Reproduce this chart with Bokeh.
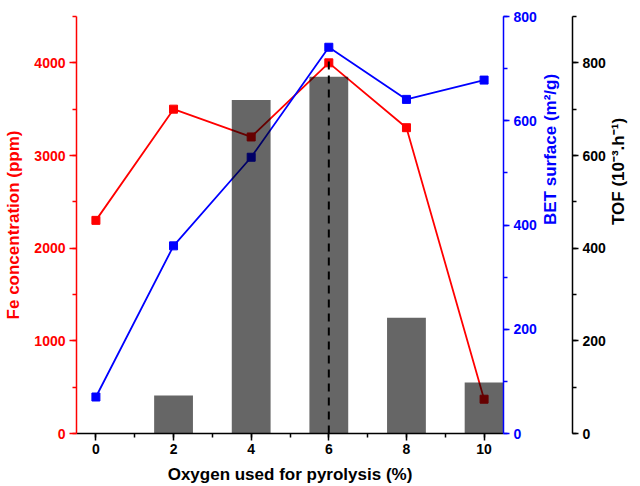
import math
from bokeh.plotting import figure
from bokeh.models import Range1d, LinearAxis, SingleIntervalTicker, ColumnDataSource
from bokeh.embed import file_html
from bokeh.resources import INLINE

oxygen = [0, 2, 4, 6, 8, 10]
fe_ppm = [2300, 3500, 3200, 4000, 3300, 370]
bet_surface = [70, 360, 530, 741, 641, 678]
tof = [0, 82, 720, 770, 250, 110]
peak_x = 6

FONT = "Liberation Sans"
RED = "#ff0000"
BLUE = "#0000ff"

X_MIN, X_MAX = -0.5, 10.5
FE_MAX, BET_MAX, TOF_MAX = 4500, 800, 900

p = figure(width=640, height=486, output_backend="svg", toolbar_location=None,
           x_range=Range1d(X_MIN, X_MAX), y_range=Range1d(0, FE_MAX),
           min_border_left=76, min_border_right=130, min_border_top=16, min_border_bottom=53)
p.extra_y_ranges = {"bet": Range1d(0, BET_MAX), "tof": Range1d(0, TOF_MAX)}
p.outline_line_color = None
p.xgrid.visible = False
p.ygrid.visible = False

def style_axis(ax, color, label, label_standoff=6, tick_out=7, tick_standoff=4):
    ax.axis_line_color = color
    ax.axis_line_width = 1.5
    ax.major_tick_line_color = color
    ax.minor_tick_line_color = color
    ax.major_tick_line_width = 1.5
    ax.minor_tick_line_width = 1.5
    ax.major_tick_in = 0
    ax.major_tick_out = tick_out
    ax.minor_tick_in = 0
    ax.minor_tick_out = 4
    ax.major_label_text_color = color
    ax.major_label_text_font = FONT
    ax.major_label_text_font_style = "bold"
    ax.major_label_text_font_size = "14px"
    ax.major_label_standoff = tick_standoff
    ax.axis_label = label
    ax.axis_label_text_color = color
    ax.axis_label_text_font = FONT
    ax.axis_label_text_font_style = "bold"
    ax.axis_label_text_font_size = "17px"
    ax.axis_label_standoff = label_standoff

# x axis
xa = p.xaxis[0]
xa.ticker = SingleIntervalTicker(interval=2, num_minor_ticks=2)
style_axis(xa, "black", "Oxygen used for pyrolysis (%)", 8, 7, 3)

# left axis
ya = p.yaxis[0]
ya.ticker = SingleIntervalTicker(interval=1000, num_minor_ticks=2)
style_axis(ya, RED, "Fe concentration (ppm)", 8)

# BET axis: label rotated to read bottom-to-top
bet_ax = LinearAxis(y_range_name="bet", ticker=SingleIntervalTicker(interval=200, num_minor_ticks=2))
style_axis(bet_ax, BLUE, "BET surface (m²/g)", 11, 6, 4)
bet_ax.axis_label_orientation = math.pi / 2
p.add_layout(bet_ax, "right")

# TOF axis
tof_ax = LinearAxis(y_range_name="tof", ticker=SingleIntervalTicker(interval=200, num_minor_ticks=2))
style_axis(tof_ax, "black", "TOF (10⁻³.h⁻¹)", 10, 6, 4)
tof_ax.axis_label_orientation = math.pi / 2
p.add_layout(tof_ax, "right")

src = ColumnDataSource(dict(x=oxygen, fe=fe_ppm, bet=bet_surface, tof=tof))

p.line("x", "fe", source=src, color=RED, line_width=1.8)
p.scatter("x", "fe", source=src, marker="square", size=8, color=RED)
p.line("x", "bet", source=src, color=BLUE, line_width=1.8, y_range_name="bet")
p.scatter("x", "bet", source=src, marker="square", size=8, color=BLUE, y_range_name="bet")

p.vbar(x="x", top="tof", width=1.0, bottom=0, source=src, y_range_name="tof",
       fill_color="black", fill_alpha=0.6, line_color=None)

peak_bet = bet_surface[oxygen.index(peak_x)]
p.segment(x0=[peak_x], y0=[0], x1=[peak_x], y1=[peak_bet - 25], y_range_name="bet",
          line_color="black", line_width=2, line_dash="8 6")

open("out.html", "w").write(file_html(p, INLINE))
